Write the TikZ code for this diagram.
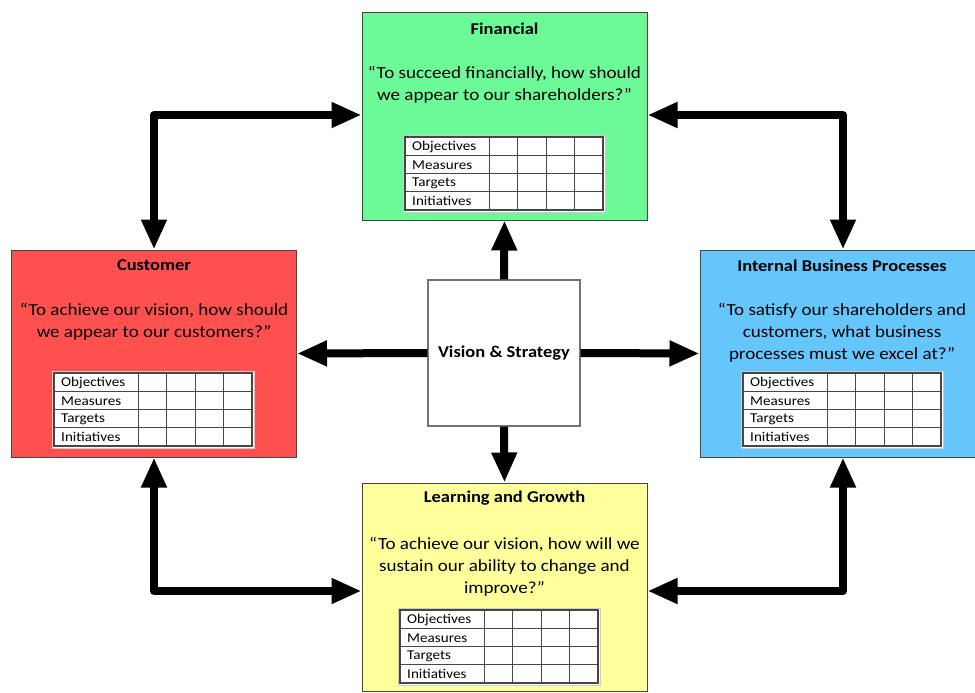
\documentclass[tikz,border=0pt]{standalone}
\usepackage{fontspec}
\setmainfont[FakeStretch=1.12]{Carlito}
\usetikzlibrary{arrows.meta}

\definecolor{fincol}{RGB}{108,250,152}
\definecolor{cuscol}{RGB}{255,80,80}
\definecolor{ibpcol}{RGB}{100,198,250}
\definecolor{lgcol}{RGB}{255,255,155}
\definecolor{edgecol}{RGB}{70,70,70}

\tikzset{
  persp/.style={draw=edgecol, line width=1pt, inner sep=0pt, minimum width=285pt, minimum height=207pt},
  title/.style={font=\fontsize{16.5}{19}\selectfont\bfseries, inner sep=0pt},
  quote/.style={font=\fontsize{17}{22}\selectfont, align=center, inner sep=0pt},
  link/.style={line width=8pt, line join=round,
    -{Triangle[length=30pt,width=24pt]}},
  dlink/.style={line width=8pt, line join=round,
    {Triangle[length=30pt,width=24pt]}-{Triangle[length=30pt,width=24pt]}},
  celltext/.style={font=\fontsize{13.5}{14}\selectfont, anchor=west, inner sep=0pt}
}

% scorecard grid: #1 = top-left corner
\newcommand{\scoregrid}[1]{%
  \begin{scope}[shift={#1}]
    \fill[white, draw=black!20, line width=0.8pt] (-2,-2) rectangle (200,75);
    \draw[edgecol, line width=1.2pt] (0,0) rectangle (198,73);
    \foreach \yy in {18.25,36.5,54.75} \draw[edgecol, line width=1pt] (0,\yy) -- (198,\yy);
    \foreach \xx in {84,112.5,141,169.5} \draw[edgecol, line width=1pt] (\xx,0) -- (\xx,73);
    \node[celltext] at (7,9.5) {Objectives};
    \node[celltext] at (7,27.75) {Measures};
    \node[celltext] at (7,46) {Targets};
    \node[celltext] at (7,64.25) {Initiatives};
  \end{scope}}

\begin{document}
\begin{tikzpicture}[x=1pt, y=-1pt]
\useasboundingbox (0,0) rectangle (975,693);
\fill[white] (0,0) rectangle (975,693);

% the four perspectives
\node[persp, fill=fincol] (fin) at (504.5,116.5) {};
\node[persp, fill=cuscol] (cus) at (154,353.5) {};
\node[persp, fill=ibpcol, minimum width=286pt] (ibp) at (843,353.5) {};
\node[persp, fill=lgcol, minimum height=208pt] (lg) at (504.5,587) {};

% centre
\node[draw=black!55, line width=1.2pt, fill=white, minimum width=152pt, minimum height=146pt, inner sep=0pt] (vis) at (504,353) {};
\node[title] (vistext) at (vis.center) {Vision \& Strategy};

% titles and questions
\node[title] (fint) at (504.5,28.5) {Financial};
\node[quote] (finq) at (504.5,85) {“To succeed financially, how should\\we appear to our shareholders?”};
\node[title] (cust) at (154,265.5) {Customer};
\node[quote] (cusq) at (154,322) {“To achieve our vision, how should\\we appear to our customers?”};
\node[title] (ibpt) at (842,265.5) {Internal Business Processes};
\node[quote] (ibpq) at (842,333) {“To satisfy our shareholders and\\customers, what business\\processes must we excel at?”};
\node[title] (lgt) at (504.5,498.5) {Learning and Growth};
\node[quote] (lgq) at (504.5,567) {“To achieve our vision, how will we\\sustain our ability to change and\\improve?”};

% scorecard grids
\scoregrid{(405,137)}
\scoregrid{(54,373)}
\scoregrid{(743,373)}
\scoregrid{(400,610)}

% links from the centre
\draw[link] (vis.north) -- (fin.south);
\draw[link] (vis.west) -- (cus.east);
\draw[link] (vis.east) -- (ibp.west);
\draw[link] (vis.south) -- (lg.north);

% links around the ring
\coordinate (c1) at (154,115);
\coordinate (c2) at (843,115);
\coordinate (c3) at (154,591);
\coordinate (c4) at (843,591);
\draw[dlink] (cus.north) -- (c1) -- (fin.west |- c1);
\draw[dlink] (fin.east |- c2) -- (c2) -- (ibp.north);
\draw[dlink] (cus.south) -- (c3) -- (lg.west |- c3);
\draw[dlink] (ibp.south) -- (c4) -- (lg.east |- c4);
\end{tikzpicture}
\end{document}
